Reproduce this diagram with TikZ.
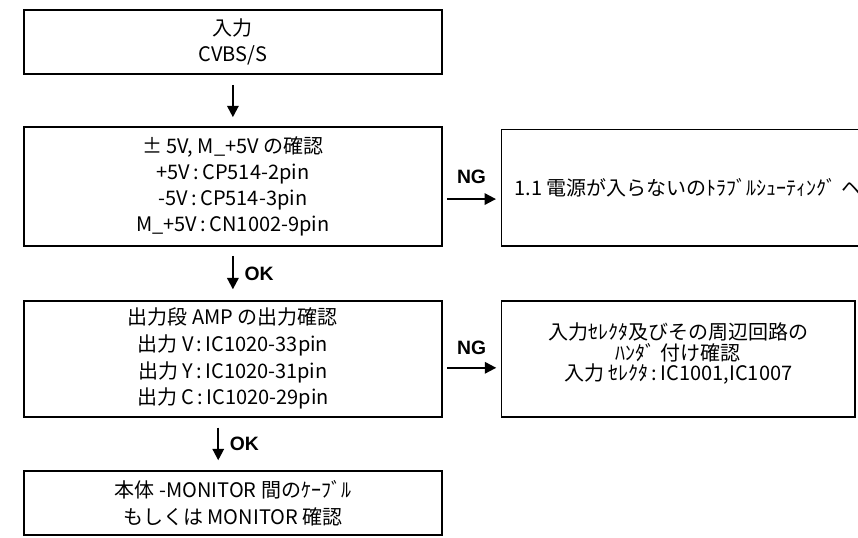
\documentclass[tikz,border=0pt]{standalone}
\usepackage{fontspec}
\setmainfont{Noto Sans CJK JP}
\newfontfamily\lblfont{Liberation Sans}
\usepackage{tikz}
\usetikzlibrary{arrows.meta, positioning}
\tikzstyle{box} = [rectangle, draw=black, line width=1.2pt, minimum width=313.3pt, text centered, align=center, font=\fontsize{15}{19.5}\selectfont, inner sep=0pt]
\tikzstyle{line} = [draw, line width=1.5pt, -{Triangle[width=8.5pt,length=8.5pt]}]
\tikzstyle{tag} = [font=\lblfont\bfseries\fontsize{14.5}{14.5}\selectfont, inner sep=2pt]

\begin{document}
\begin{tikzpicture}[x=0.75pt, y=-0.75pt, node distance=108.4pt]
    \useasboundingbox (0,0) rectangle (858,538);
    % Nodes
    \node [box, minimum height=48pt] (input) at (232.9,42) {入力\\CVBS/S};
    \node [box, below of=input, minimum height=89.3pt] (power) {± 5V, M\_+5V の確認\\+5V\,:\,CP514-2pin\\-5V\,:\,CP514-3pin\\M\_+5V\,:\,CN1002-9pin};
    \node [box, below of=power, node distance=129.2pt, minimum height=87pt, font=\fontsize{15}{20}\selectfont] (amp) {出力段 AMP の出力確認\\出力 V\,:\,IC1020-33pin\\出力 Y\,:\,IC1020-31pin\\出力 C\,:\,IC1020-29pin};
    \node [box, below of=amp, node distance=108.2pt, minimum height=48pt, font=\fontsize{15}{20.3}\selectfont] (cable) {本体 -MONITOR 間のｹｰﾌﾞﾙ\\もしくは MONITOR 確認};
    \node [box, right of=power, node distance=341.3pt, yshift=-0.75pt, minimum width=280pt, minimum height=87.3pt] (trouble) {1.1 電源が入らないのﾄﾗﾌﾞﾙｼｭｰﾃｨﾝｸﾞ ヘ};
    \node [box, right of=amp, node distance=334pt, minimum width=265pt, minimum height=87pt, font=\fontsize{15}{15.5}\selectfont] (solder) {入力ｾﾚｸﾀ及びその周辺回路の\\ﾊﾝﾀﾞ 付け確認\\入力 ｾﾚｸﾀ\,:\,IC1001,IC1007\\[-5pt]};

    % Edges
    \path [line, shorten <=7.5pt, shorten >=6.75pt] (input) -- (power);
    \path [line, shorten <=6.75pt, shorten >=8pt] (power) -- node [tag, right=6pt] {OK} (amp);
    \path [line, shorten <=7.5pt, shorten >=7.5pt] ([xshift=-11pt]amp.south) -- node [tag, right=6pt] {OK} ([xshift=-11pt]cable.north);
    \path [line, shorten <=3.4pt, shorten >=3.4pt] ([yshift=-9.4pt]power.east) -- node [tag, above=9pt] {NG} ([yshift=-9.4pt]power.east -| trouble.west);
    \path [line, shorten <=3.4pt, shorten >=3.4pt] ([yshift=-6.75pt]amp.east) -- node [tag, above=7pt] {NG} ([yshift=-6.75pt]amp.east -| solder.west);
\end{tikzpicture}
\end{document}
